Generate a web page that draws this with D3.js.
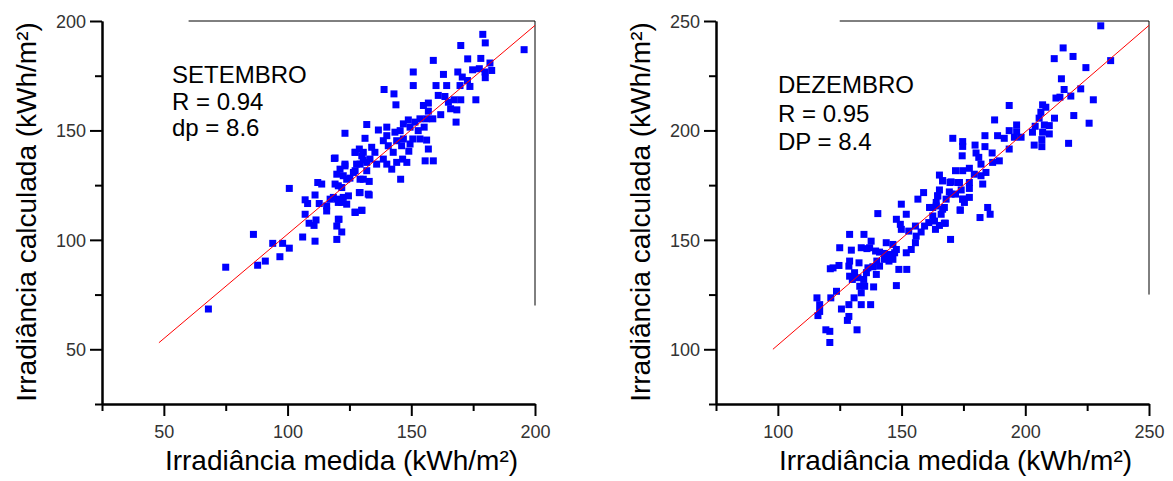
<!DOCTYPE html>
<html>
<head>
<meta charset="utf-8">
<script src="https://cdn.jsdelivr.net/npm/d3@7"></script>
<style>
	body { margin: 0; background: #fff; }
	svg { display: block; }
	text { font-family: "Liberation Sans", Arial, sans-serif; }
</style>
</head>
<body>
<div id="visuals"></div>
<script>
/* global d3 */
var width = 1173;
var height = 481;

// setembro: irradiancia medida x calculada
var setMedida = [68.0,75.0,86.2,87.9,91.0,94.0,96.9,98.0,100.7,100.7,106.1,111.1,107.1,108.7,110.7,111.5,107.1,108.1,111.1,112.8,112.2,113.8,115.8,115.8,118.9,119.9,120.5,119.9,117.2,121.9,123.2,123.9,124.6,126.6,127.3,130.0,130.6,129.3,127.3,130.0,119.9,120.8,121.9,119.9,132.6,132.0,127.9,
	178.9,179.9,170.0,195.6,172.8,178.1,181.8,158.9,150.8,163.0,168.8,174.8,177.5,179.8,182.5,179.9,170.6,172.7,173.7,169.7,160.0,164.3,150.8,139.0,143.0,143.8,160.9,163.6,165.0,167.3,170.0,176.1,165.9,168.4,161.9,168.1,156.9,154.9,156.9,158.7,156.2,153.5,151.5,148.8,146.8,149.5,145.5,152.8,155.2,143.4,140.1,136.7,132.0,123.2,131.3,140.1,138.7,144.1,146.8,150.6,153.5,156.2,140.7,146.1,149.5,134.0,129.0,127.3,130.6,135.3,142.7,149.0,156.9,119.2,130.6,133.3,138.7,146.5,148.2,155.6,158.9,123.2,129.3,136.0,140.1,144.1,121.2,127.3,132.0,142.1,122.5,125.2,129.3,145.7,133.0,119.2,121.9,129.0,133.0,118.5,122.5,120.5,123.9,127.3,130.0,120.5];
var setCalculada = [68.4,87.5,102.5,88.4,90.3,98.4,92.3,98.4,96.2,123.5,101.3,99.4,111.7,107.6,106.6,109.1,118.3,116.6,120.5,116.6,126.2,125.5,113.2,115.5,137.2,130.0,124.7,118.6,118.6,117.1,133.8,127.7,120.1,130.8,140.0,138.4,127.7,121.6,112.7,113.5,106.3,109.4,103.6,100.2,120.9,135.4,134.6,
	193.9,190.0,188.8,186.9,182.7,182.9,180.8,182.0,176.7,175.6,176.7,177.7,178.2,176.7,177.4,174.1,174.4,172.8,170.1,170.5,170.5,170.5,170.5,168.7,166.7,161.7,166.0,165.5,162.9,164.0,164.0,164.0,159.9,159.4,157.2,153.8,162.5,161.4,158.8,155.3,155.3,155.3,153.8,154.8,153.0,151.5,149.9,149.9,151.5,149.2,151.5,150.2,152.7,148.7,146.4,147.6,145.3,145.3,146.1,146.1,146.1,145.6,143.0,143.0,143.8,142.3,141.5,140.0,140.0,140.0,140.0,140.5,141.5,137.4,136.5,136.9,136.9,136.9,135.4,136.1,136.1,134.6,134.6,134.6,134.6,135.4,132.3,131.6,131.6,132.3,129.3,128.2,127.7,127.7,126.7,125.5,123.9,121.6,120.5,119.4,119.4,117.1,116.3,112.5,113.5,109.4];

// dezembro
var dezMedida = [121.0,119.4,121.0,132.0,128.1,128.7,116.2,116.9,125.7,128.7,133.7,137.5,115.8,116.9,121.4,123.7,130.8,133.7,133.1,135.1,138.7,147.9,130.1,132.4,134.7,129.0,131.0,135.8,139.8,121.2,122.3,124.7,128.7,129.0,132.8,136.4,138.4,141.1,140.0,143.1,144.9,146.5,148.9,152.1,145.8,147.2,143.1,141.1,139.5,137.1,136.0,133.7,129.7,125.0,129.0,134.8,137.7,143.8,146.5,147.9,151.9,153.9,155.6,155.9,157.9,152.9,149.9,147.9,149.5,151.9,140.4,149.9,156.6,158.9,155.6,159.3,161.0,163.7,167.3,169.8,166.0,162.6,161.3,164.0,167.3,164.6,170.0,174.7,173.7,166.6,170.0,173.4,
	230.5,215.3,219.3,211.7,234.5,224.5,214.6,215.7,222.4,218.4,227.5,212.4,214.0,193.5,207.0,208.3,206.3,211.8,219.6,225.8,205.6,207.7,209.7,204.0,202.9,207.0,209.7,187.6,196.5,193.5,196.5,198.3,195.6,188.8,191.5,183.7,206.7,203.6,206.7,217.5,193.5,170.7,174.7,174.7,179.7,183.7,186.6,180.1,181.2,174.5,189.5,186.8,182.1,177.4,171.8,174.7,184.1,179.4,182.1,165.3,166.6,169.6,172.7,177.4,182.8,174.1,177.4,169.3,165.3,171.8,164.6,168.0,174.7,177.4,175.4,164.0,162.6,166.6,173.7,184.8,185.8,181.7,163.3,167.7,165.3];
var dezCalculada = [103.1,108.9,108.2,108.9,113.2,115.0,115.4,117.3,118.4,120.4,120.4,120.4,123.5,120.4,123.5,126.5,123.5,125.8,128.8,128.8,128.5,129.1,131.9,132.7,131.9,133.4,135.0,135.0,134.2,136.8,137.2,138.3,138.0,140.3,139.5,137.2,137.7,138.0,140.3,141.1,140.3,141.1,136.5,136.5,143.3,144.1,143.8,144.4,144.9,146.4,146.0,146.4,145.3,146.4,152.5,152.5,149.4,148.7,147.9,145.6,144.1,145.6,148.7,151.7,153.6,154.0,154.8,159.4,157.1,161.7,162.0,166.3,168.6,171.6,156.3,156.3,157.9,154.8,157.6,150.2,161.7,160.9,164.8,165.5,164.8,170.1,170.9,168.6,163.7,177.0,176.5,176.2,
	247.8,237.7,233.8,232.8,231.9,228.7,223.6,218.7,219.0,215.7,214.0,214.8,215.2,211.4,211.7,210.6,208.3,205.6,206.8,203.3,205.6,202.5,202.2,201.9,199.2,199.2,198.4,204.8,202.5,199.9,199.4,196.9,196.9,197.6,196.4,197.6,195.8,193.3,192.6,194.1,191.5,196.4,194.9,192.7,193.3,192.6,189.7,189.7,187.7,188.4,186.1,185.4,184.6,182.7,181.6,181.6,180.8,180.0,179.3,179.6,177.0,176.2,176.2,176.2,175.5,172.8,173.5,171.9,172.8,170.9,170.1,168.6,168.6,169.4,167.1,167.1,164.8,164.0,163.5,164.8,161.7,160.2,158.6,157.6,156.6];

// retas de ajuste (extremos)
var setFitX = [48, 200];
var setFitY = [53, 198];
var dezFitX = [98, 250];
var dezFitY = [100, 248];

var setTicksMajor = [50, 100, 150, 200];
var setTicksMinor = [25, 75, 125, 175];
var dezTicksMajor = [100, 150, 200, 250];
var dezTicksMinor = [75, 125, 175, 225];

var setLabels = ["SETEMBRO", "R = 0.94", "dp = 8.6"];
var dezLabels = ["DEZEMBRO", "R = 0.95", "DP = 8.4"];

var svg = d3.select("#visuals").append("svg")
	.attr("width", width)
	.attr("height", height);

function draw_panel(p) {
	var x = d3.scaleLinear().domain(p.domain).range([p.left, p.left + 433]);
	var y = d3.scaleLinear().domain(p.domain).range([404, 21]);
	var g = svg.append("g");

	// moldura fina em cima e a direita
	g.append("line")
		.attr("x1", x(p.frameX)).attr("x2", x(p.domain[1]))
		.attr("y1", y(p.domain[1])).attr("y2", y(p.domain[1]))
		.attr("stroke", "#000").attr("stroke-width", 1);
	g.append("line")
		.attr("x1", x(p.domain[1])).attr("x2", x(p.domain[1]))
		.attr("y1", y(p.domain[1])).attr("y2", y(p.frameY))
		.attr("stroke", "#000").attr("stroke-width", 1);

	// eixo x
	g.append("g")
		.attr("transform", "translate(0,404)")
		.call(d3.axisBottom(x).tickValues(p.minor).tickSize(7).tickSizeOuter(0).tickFormat(""));
	var xMajor = g.append("g")
		.attr("transform", "translate(0,404)")
		.call(d3.axisBottom(x).tickValues(p.major).tickSize(12).tickSizeOuter(0));
	xMajor.selectAll("text").attr("y", 34).attr("dy", 0);

	// eixo y
	g.append("g")
		.attr("transform", "translate(" + p.left + ",0)")
		.call(d3.axisLeft(y).tickValues(p.minor).tickSize(7).tickSizeOuter(0).tickFormat(""));
	var yMajor = g.append("g")
		.attr("transform", "translate(" + p.left + ",0)")
		.call(d3.axisLeft(y).tickValues(p.major).tickSize(12).tickSizeOuter(0));
	yMajor.selectAll("text").attr("x", -16).attr("dy", "0.36em");

	g.selectAll(".domain").attr("stroke-width", 2);
	g.selectAll(".tick line").attr("stroke-width", 2);
	g.selectAll(".tick text")
		.style("font-size", "18px")
		.style("font-family", "'Liberation Sans', Arial, sans-serif")
		.attr("fill", "#333");

	// pontos
	var pts = p.xs.map(function(d, i) { return {x: d, y: p.ys[i]}; });
	g.selectAll("rect.pt")
		.data(pts)
		.enter()
		.append("rect")
		.attr("class", "pt")
		.attr("x", function(d) { return x(d.x) - 3.5; })
		.attr("y", function(d) { return y(d.y) - 3.5; })
		.attr("width", 7)
		.attr("height", 7)
		.attr("fill", "#0000ff");

	// reta
	g.append("line")
		.attr("x1", x(p.fitX[0])).attr("y1", y(p.fitY[0]))
		.attr("x2", x(p.fitX[1])).attr("y2", y(p.fitY[1]))
		.attr("stroke", "#ff0000").attr("stroke-width", 1);

	// textos
	g.selectAll("text.ann")
		.data(p.labels)
		.enter()
		.append("text")
		.attr("class", "ann")
		.attr("x", p.annX)
		.attr("y", function(d, i) { return p.annY + i * p.annStep; })
		.style("font-size", "24px")
		.attr("fill", "#000")
		.text(function(d) { return d; });

	g.append("text")
		.attr("x", (x.range()[0] + x.range()[1]) / 2 + 23)
		.attr("y", 470)
		.attr("text-anchor", "middle")
		.style("font-size", "28px")
		.text("Irradiância medida (kWh/m²)");

	g.append("text")
		.attr("transform", "translate(" + (p.left - 66) + ",212) rotate(-90)")
		.attr("text-anchor", "middle")
		.style("font-size", "28px")
		.text("Irradiância calculada (kWh/m²)");
}

draw_panel({
	left: 102, domain: [25, 200], frameX: 60, frameY: 70,
	major: setTicksMajor, minor: setTicksMinor,
	xs: setMedida, ys: setCalculada, fitX: setFitX, fitY: setFitY,
	labels: setLabels, annX: 172, annY: 83, annStep: 26.5
});

draw_panel({
	left: 716, domain: [75, 250], frameX: 125, frameY: 125,
	major: dezTicksMajor, minor: dezTicksMinor,
	xs: dezMedida, ys: dezCalculada, fitX: dezFitX, fitY: dezFitY,
	labels: dezLabels, annX: 778, annY: 93, annStep: 28.5
});
</script>
</body>
</html>
